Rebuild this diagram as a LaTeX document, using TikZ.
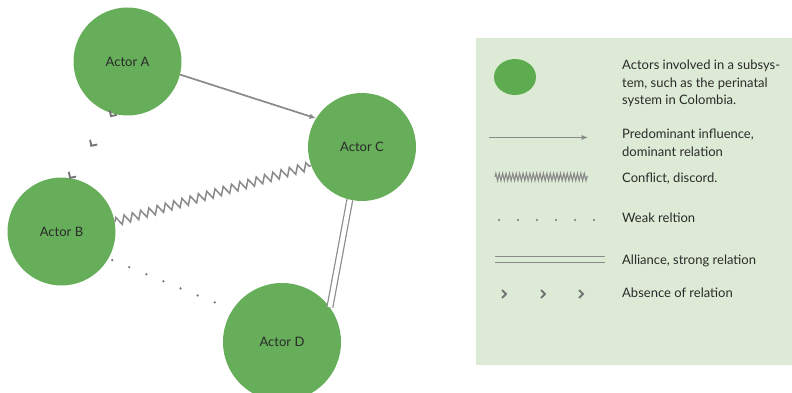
\documentclass[tikz,border=0pt]{standalone}
\usepackage{fontspec}
\setmainfont{Lato}
\usetikzlibrary{arrows.meta,decorations.pathmorphing,decorations.markings}

\definecolor{actorgreen}{HTML}{66AE59}
\definecolor{keygreen}{HTML}{5DAD50}
\definecolor{legendbg}{HTML}{DDEBD6}
\definecolor{linkgray}{HTML}{8A8A8A}
\definecolor{markgray}{HTML}{757575}
\definecolor{inkgray}{HTML}{2A2A2A}

\begin{document}
\begin{tikzpicture}[x=1pt,y=-1pt,
  actor/.style={circle,fill=actorgreen,inner sep=0pt,text=inkgray,
    font=\fontsize{13}{15}\selectfont},
  link/.style={draw=linkgray,line width=1.7pt},
  influence/.style={link,-{Latex[length=6.5pt,width=5.5pt]}},
  conflict/.style={link,line width=1.5pt,decorate,
    decoration={zigzag,segment length=8.6pt,amplitude=4.2pt}},
  weak/.style={draw=markgray,line width=2.5pt,line cap=round,
    dash pattern=on 0pt off 18.5pt},
  alliance/.style={draw=linkgray,line width=1.2pt,double=white,double distance=4.6pt},
  chev/.style={draw=markgray,line width=1.9pt},
  absence/.style={decoration={markings,
      mark=at position 3pt with {\draw[chev] (-4.3,4.3) -- (0,0) -- (-4.3,-4.3);},
      mark=at position 0.5 with {\draw[chev] (-4.3,4.3) -- (0,0) -- (-4.3,-4.3);},
      mark=at position 0.999 with {\draw[chev] (-4.3,4.3) -- (0,0) -- (-4.3,-4.3);}},
    postaction={decorate}},
  keytext/.style={text=inkgray,font=\fontsize{13}{17.2}\selectfont,
    align=left,inner sep=0pt,anchor=base west}
]
\useasboundingbox (0,0) rectangle (792,393);
\fill[white] (0,0) rectangle (792,393);

% legend panel
\fill[legendbg] (476,38) rectangle (792,365);

% actors
\node[actor,minimum size=108pt] (A) at (127.5,61.5) {Actor A};
\node[actor,minimum size=108pt] (B) at (61.5,231.5) {Actor B};
\node[actor,minimum size=108pt] (C) at (362,147) {Actor C};
\node[actor,minimum size=118pt] (D) at (282,342) {Actor D};

% relations between actors
\draw[influence] (A.-14) -- (C.148.5);
\draw[conflict] (B.10.5) -- (C.200.4);
\draw[weak,dash phase=14.5pt,shorten >=6pt] (B.-30) -- (D.147);
\draw[alliance] (C.257) -- (D.36);
\path[absence] (A.254) -- (B.81);

% legend symbols
\fill[keygreen] (515,77) ellipse [x radius=21pt,y radius=18pt];
\coordinate (k1a) at (489,137.5);
\coordinate (k1b) at (588,137.5);
\draw[influence] (k1a) -- (k1b);
\coordinate (k2a) at (495,177);
\coordinate (k2b) at (588,177);
\draw[link,line width=1.1pt,decorate,
  decoration={zigzag,segment length=3.4pt,amplitude=3.6pt}] (k2a) -- (k2b);
\coordinate (k3a) at (499,220);
\coordinate (k3b) at (596,220);
\draw[weak,line width=2.1pt,dash pattern=on 0pt off 19pt] (k3a) -- (k3b);
\coordinate (k4a) at (495,259.7);
\coordinate (k4b) at (605,259.7);
\draw[alliance,line width=1.1pt,double=legendbg,double distance=5pt] (k4a) -- (k4b);
\foreach \cx in {506,545,583}
  \draw[chev] (\cx-4,290) -- (\cx,294) -- (\cx-4,298);

% legend texts (anchored at the baseline of their last line)
\node[keytext] (t1) at (622,104.4) {Actors involved in a subsys-\\tem, such as the perinatal\\system in Colombia.};
\node[keytext] (t2) at (622,156.2) {Predominant influence,\\dominant relation};
\node[keytext] (t3) at (622,182.5) {Conflict, discord.};
\node[keytext] (t4) at (622,222.5) {Weak reltion};
\node[keytext] (t5) at (622,264.5) {Alliance, strong relation};
\node[keytext] (t6) at (622,297.5) {Absence of relation};
\end{tikzpicture}
\end{document}
